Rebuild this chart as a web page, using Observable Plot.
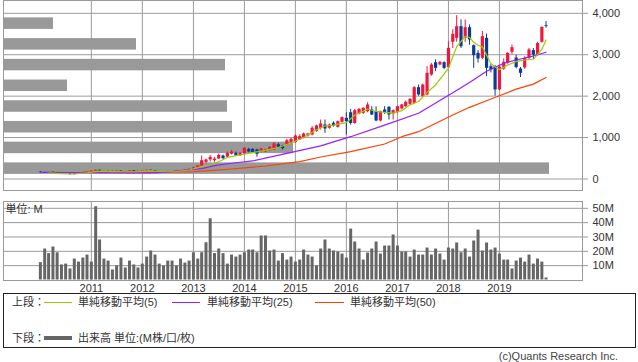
<!DOCTYPE html>
<html><head><meta charset="utf-8">
<script src="https://cdn.jsdelivr.net/npm/d3@7"></script>
<script src="https://cdn.jsdelivr.net/npm/@observablehq/plot@0.6"></script>
<style>
body{margin:0;background:#fff;}
#chart{position:relative;width:638px;height:362px;font-family:'Liberation Sans','Noto Sans CJK JP',sans-serif;color:#333;overflow:hidden;background:#fff}
#chart .layer{position:absolute;left:0;}
#chart .lg{position:absolute;font-size:11px;line-height:14px;white-space:nowrap;color:#333;font-family:'Liberation Sans','Noto Sans CJK JP',sans-serif}
#chart .sw{position:absolute;height:0;}
</style></head><body><div id="chart"></div>
<script>
// ---------- DATA (monthly, Jan 2010 .. Dec 2019) ----------
const startYear = 2010;
const open = [
 165,155,140,160,155,135,130,125,105,130,125,145,
 165,190,210,180,185,175,185,190,170,180,195,175,
 185,195,210,200,180,165,175,170,175,190,185,215,
 235,270,315,400,460,440,480,555,525,600,620,560,
 604,716,716,700,652,652,684,700,829,797,821,877,
 877,941,982,1038,1062,1143,1223,1304,1223,1344,1247,1368,
 1464,1600,1340,1569,1585,1625,1666,1625,1400,1666,1730,1569,
 1601,1690,1746,1803,1827,2205,1988,2028,2511,2808,2752,2808,
 2687,3299,3395,3677,3395,3653,3219,3034,2913,3395,2711,2711,
 2150,2655,2792,3058,2920,2655,2680,2913,3100,2990,3300,3700];
const high = [
 180,165,165,175,160,145,140,130,135,140,150,170,
 200,220,215,195,190,190,200,195,185,200,205,190,
 200,215,220,205,185,180,185,180,195,200,220,240,
 280,320,555,480,570,520,600,575,650,690,650,640,
 760,740,730,720,740,720,780,880,861,810,960,980,
 1062,1070,1110,1100,1263,1300,1424,1424,1330,1380,1400,1500,
 1600,1680,1680,1700,1720,1840,1746,1740,1640,1746,1746,1666,
 1760,1800,1880,1940,2230,2270,2290,2711,2790,2880,2840,2830,
 3315,3600,3943,3838,3838,3720,3235,3100,3560,3500,2760,2740,
 2720,2900,3050,3235,2990,2690,2950,3150,3150,3300,3670,3800];
const low = [
 150,135,135,150,130,120,115,95,100,120,120,140,
 160,175,160,170,170,170,175,165,165,175,170,170,
 180,190,195,175,160,160,165,160,170,180,180,210,
 225,260,310,370,410,400,470,470,500,580,555,550,
 590,630,620,524,640,640,670,690,740,700,800,860,
 860,930,970,1010,1040,1130,1180,1102,1200,1250,1230,1350,
 1062,1300,1320,1550,1560,1600,1530,1384,1380,1560,1424,1424,
 1580,1670,1730,1780,1810,2000,1970,2010,2480,2591,2730,2640,
 2650,3150,3300,3150,3300,3230,2671,2800,2880,2470,2560,2000,
 2130,2620,2770,3000,2660,2450,2650,2880,2880,2960,3280,3640];
const close = [
 155,140,160,155,135,130,125,105,130,125,145,165,
 190,210,180,185,175,185,190,170,180,195,175,185,
 195,210,200,180,165,175,170,175,190,185,215,235,
 270,315,440,460,520,480,570,490,620,650,560,620,
 740,652,636,596,724,700,764,845,764,732,925,958,
 1038,1022,1086,1086,1223,1280,1328,1207,1304,1280,1384,1481,
 1384,1340,1650,1682,1706,1786,1545,1400,1625,1600,1545,1649,
 1746,1786,1851,1923,2205,2028,2269,2551,2752,2671,2816,2671,
 3154,3492,3677,3194,3653,3355,2977,2897,3436,2671,2631,2150,
 2700,2816,3034,3170,2690,2551,2913,3114,2990,3270,3660,3680];
const volumeM = [
 12.1,21.6,18.4,23,19,10.5,11.1,7.7,14.6,12.5,15.3,17.4,
 12.5,51.1,27.9,14.6,13.2,7,9.8,15.3,8.4,13.2,10.5,8.4,
 11.1,16,20.2,17.4,11.1,9.8,13.2,13.2,9.8,14.6,11.8,13.2,
 19,14.6,19,26,42.7,18.4,21.6,18.4,11.1,17.4,16,17.4,
 19,20.9,20.9,19,30.7,30.7,20.2,20.9,13.2,18.4,13.9,16,
 12.5,13.9,20.9,17.4,16,9.8,21.6,27.9,21.6,20.2,19.5,18.1,
 15.3,35.5,26.5,21.6,13.9,18.8,21.6,26.5,18.1,23.7,23.7,31.4,
 23.7,19.5,19.5,16,20.9,17.4,17.4,22.3,17.4,21.6,18.1,13.9,
 22.3,21.6,25.8,19,21.6,16,27.2,34.8,20.2,25.8,20.9,22.3,
 18.1,13.9,13.9,7.7,13.2,15.3,12.5,17.4,11.1,14.6,12.5,1.4];

// moving averages (month index from Jan 2010, value)
const ma5Month = [2,5,8,11,14,17,20,23,26,29,32,35,38,40,42,44,47,50,53,56,59,62,65,67,69,72,74,77,79,81,83,85,87,89,91,93,96,98,100,101,102,103,104,105,106,107,108,110,112,114,116,118,119];
const ma5Value = [140,130,120,150,190,180,175,180,195,175,180,217,300,338,418,520,579,636,690,760,870,1000,1190,1280,1300,1360,1540,1690,1630,1610,1590,1650,1790,1870,2090,2270,2670,3194,3440,3420,3300,3230,3190,2990,2790,2711,2640,2752,2832,2872,2890,3130,3355];
const ma25Month = [0,12,26,30,33,38,41,45,50,58,66,73,81,89,97,101,105,109,112,115,119];
const ma25Value = [162,150,148,165,200,250,321,380,435,620,800,1021,1300,1586,2080,2330,2600,2790,2873,2940,3060];
const ma50Month = [10,20,30,36,40,45,53,61,66,73,81,85,89,97,101,105,108,112,116,119];
const ma50Value = [165,168,168,175,200,241,314,418,530,660,845,1021,1142,1545,1730,1890,2010,2170,2290,2450];

// price-band volume profile (left grey bars)
const bandLow = [0,500,1000,1500,2000,2500,3000,3500];
const bandVolume = [546,290,229,224,64,222,133,50];

const priceTicks = [0,1000,2000,3000,4000];
const volumeTicks = [10,20,30,40,50];
const yearTicks = [2011,2012,2013,2014,2015,2016,2017,2018,2019];

// ---------- BUILD ----------
const FONT = "'Liberation Sans','Noto Sans CJK JP',sans-serif";
const UP = "#f2163e", DOWN = "#0c3b92";
const GREEN = "#9acd00", PURPLE = "#9b1cff", ORANGE = "#ff4000";
const GRID = "#9a9a9a";
const monthDate = i => new Date(startYear, i, 1);
const candles = open.map((o, i) => ({date: monthDate(i), open: o, high: high[i], low: low[i], close: close[i]}));
const vols = volumeM.map((v, i) => ({date: monthDate(i), vol: v}));
const toLine = (ms, vs) => ms.map((m, i) => ({date: monthDate(m), value: vs[i]}));
const ma5 = toLine(ma5Month, ma5Value), ma25 = toLine(ma25Month, ma25Value), ma50 = toLine(ma50Month, ma50Value);
const profile = bandLow.map((lo, i) => ({lo, hi: lo + 500, vol: bandVolume[i]}));
const years = yearTicks.map(y => new Date(y, 0, 1));

const xDomain = [new Date(2009, 3, 12), new Date(2020, 7, 18)];
const common = {width: 638, marginLeft: 3, marginRight: 56,
  style: {background: "transparent", fontFamily: FONT, fontSize: "11px", color: "#333", overflow: "visible"}};
const topOpts = {...common, height: 191, marginTop: 0, marginBottom: 1};
const priceY = {domain: [-278, 4309], axis: null, label: null};

const chart = document.getElementById("chart");
function add(svg, top) { svg.classList.add("layer"); svg.style.top = top + "px"; chart.appendChild(svg); }

// layer 1: grid, frame, price axis
add(Plot.plot({...topOpts,
  x: {domain: xDomain, axis: null, label: null}, y: priceY,
  marks: [
    Plot.gridX(years, {stroke: GRID, strokeOpacity: 1}),
    Plot.gridY(priceTicks, {stroke: GRID, strokeOpacity: 1}),
    Plot.frame({stroke: GRID}),
    Plot.axisY(priceTicks, {anchor: "right", label: null, tickSize: 5, tickPadding: 5, tickFormat: d3.format(","), stroke: GRID, color: "#333", fontSize: 11})
  ]}), 0);

// layer 2: volume-by-price bars
add(Plot.plot({...topOpts,
  x: {domain: [0, 579], axis: null, label: null}, y: priceY,
  marks: [
    Plot.rectX(profile, {x: "vol", y1: "lo", y2: "hi", fill: "#999999", insetTop: 4.6, insetBottom: 4.6})
  ]}), 0);

// layer 3: candles + moving averages
add(Plot.plot({...topOpts,
  x: {domain: xDomain, axis: null, label: null}, y: priceY,
  marks: [
    Plot.ruleX(candles, {filter: d => d.close >= d.open, x: "date", y1: "low", y2: "high", stroke: UP, strokeWidth: 1}),
    Plot.ruleX(candles, {filter: d => d.close < d.open, x: "date", y1: "low", y2: "high", stroke: DOWN, strokeWidth: 1}),
    Plot.ruleX(candles, {filter: d => d.close >= d.open, x: "date", y1: "open", y2: "close", stroke: UP, strokeWidth: 3.2}),
    Plot.ruleX(candles, {filter: d => d.close < d.open, x: "date", y1: "open", y2: "close", stroke: DOWN, strokeWidth: 3.2}),
    Plot.line(ma50, {x: "date", y: "value", stroke: ORANGE, strokeWidth: 1.2}),
    Plot.line(ma25, {x: "date", y: "value", stroke: PURPLE, strokeWidth: 1.2}),
    Plot.line(ma5, {x: "date", y: "value", stroke: GREEN, strokeWidth: 1.2})
  ]}), 0);

// volume panel
add(Plot.plot({...common, height: 104, marginTop: 9, marginBottom: 16,
  x: {domain: xDomain, axis: null, label: null}, y: {domain: [-0.35, 54.74], axis: null, label: null},
  marks: [
    Plot.gridX(years, {stroke: GRID, strokeOpacity: 1}),
    Plot.gridY(volumeTicks, {stroke: GRID, strokeOpacity: 1}),
    Plot.frame({stroke: GRID}),
    Plot.ruleX(vols, {x: "date", y1: 0, y2: "vol", stroke: "#666666", strokeWidth: 3}),
    Plot.axisY(volumeTicks, {anchor: "right", label: null, tickSize: 5, tickPadding: 5, tickFormat: d => d + "M", stroke: GRID, color: "#333", fontSize: 11}),
    Plot.axisX(years, {anchor: "bottom", label: null, tickSize: 0, tickPadding: 4, tickFormat: d => String(d.getFullYear()), color: "#333", fontSize: 11}),
    Plot.text(["単位: M"], {frameAnchor: "top-left", text: d => d, dx: 2, dy: 4, lineAnchor: "top", textAnchor: "start", fill: "#333", fontSize: 11})
  ]}), 192);

// legend box + copyright
function el(cls, css, text) { const d = document.createElement("div"); d.className = cls; Object.assign(d.style, css); if (text) d.textContent = text; chart.appendChild(d); return d; }
el("", {position: "absolute", left: "3px", top: "293px", width: "633px", height: "55px", border: "1px solid #222", boxSizing: "border-box"});
const row1 = 295, row2 = 331;
el("lg", {left: "12px", top: row1 + "px"}, "上段：");
el("sw", {left: "44px", top: (row1 + 7) + "px", width: "28px", borderTop: "1px solid " + GREEN});
el("lg", {left: "78px", top: row1 + "px"}, "単純移動平均(5)");
el("sw", {left: "172px", top: (row1 + 7) + "px", width: "28px", borderTop: "1px solid " + PURPLE});
el("lg", {left: "207px", top: row1 + "px"}, "単純移動平均(25)");
el("sw", {left: "315px", top: (row1 + 7) + "px", width: "29px", borderTop: "1px solid " + ORANGE});
el("lg", {left: "350px", top: row1 + "px"}, "単純移動平均(50)");
el("lg", {left: "12px", top: row2 + "px"}, "下段：");
el("sw", {left: "44px", top: (row2 + 5) + "px", width: "28px", borderTop: "4px solid #666"});
el("lg", {left: "78px", top: row2 + "px"}, "出来高 単位:(M株/口/枚)");
el("lg", {right: "20px", top: "349px", color: "#444"}, "(c)Quants Research Inc.");
</script></body></html>
